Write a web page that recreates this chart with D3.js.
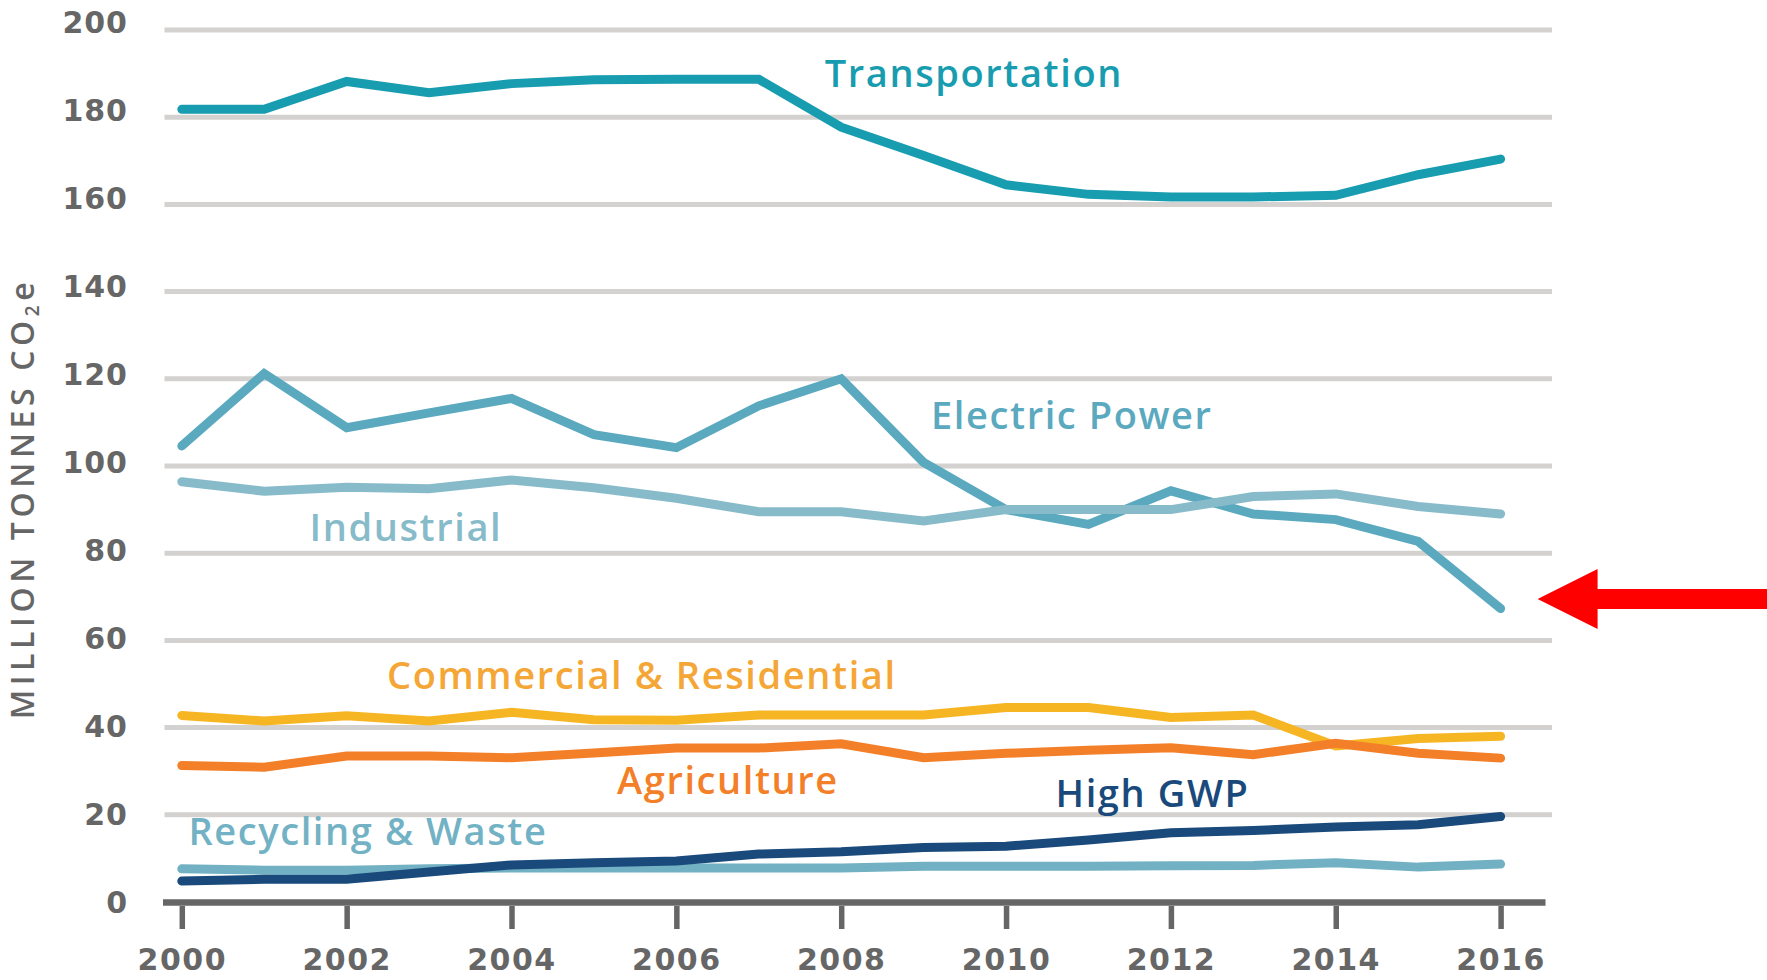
<!DOCTYPE html>
<html>
<head>
<meta charset="utf-8">
<script src="https://cdn.jsdelivr.net/npm/d3@7"></script>
<style>
  body { margin: 0; background: #fff; }
  svg { display: block; }
</style>
</head>
<body>
<div id="chart"></div>
<script>
// data, million tonnes CO2e
var years = [2000,2001,2002,2003,2004,2005,2006,2007,2008,2009,2010,2011,2012,2013,2014,2015,2016];
var transportation = [181.8,181.8,188.2,185.6,187.7,188.6,188.7,188.7,177.7,171.2,164.5,162.3,161.7,161.7,162.1,166.8,170.4];
var electricPower  = [104.6,121.2,108.8,112.2,115.5,107.2,104.2,113.8,120.0,100.8,90.0,86.6,94.3,89.0,87.7,82.7,67.3];
var industrial     = [96.4,94.2,95.1,94.8,96.8,95.0,92.6,89.5,89.5,87.4,90.0,90.0,90.0,93.0,93.6,90.7,89.0];
var commercialRes  = [42.8,41.5,42.7,41.5,43.5,41.8,41.7,42.9,42.9,42.9,44.6,44.6,42.3,42.9,35.8,37.5,38.0];
var agriculture    = [31.3,30.9,33.5,33.5,33.1,34.2,35.3,35.3,36.3,33.1,34.1,34.8,35.4,33.8,36.4,34.1,33.0];
var highGWP        = [4.8,5.2,5.2,6.9,8.5,9.0,9.4,11.0,11.5,12.5,12.8,14.2,15.9,16.4,17.2,17.7,19.6];
var recycling      = [7.6,7.3,7.3,7.6,7.8,7.8,7.8,7.8,7.8,8.2,8.2,8.2,8.3,8.4,9.0,8.0,8.7];

var yTicks = [0,20,40,60,80,100,120,140,160,180,200];
var xTicks = [2000,2002,2004,2006,2008,2010,2012,2014,2016];

var seriesNames = ["Recycling & Waste","High GWP","Commercial & Residential","Agriculture","Electric Power","Industrial","Transportation"];
var seriesValues = [recycling, highGWP, commercialRes, agriculture, electricPower, industrial, transportation];
var lineColors = ["#72b1c3","#1a4a7b","#f6b624","#f47f29","#5ba9bf","#88bbca","#189cb0"];
var labelColors = ["#72b2c4","#1a4a7b","#f4a636","#f47f29","#5ba9bf","#88bbca","#189cb0"];
// label anchor in data units: [year, value] of the text baseline start
var labelAt = [[2000.08,13.1],[2010.6,21.8],[2002.49,48.85],[2005.28,24.8],[2009.09,108.5],[2001.55,82.8],[2007.8,186.9]];

var arrowValue = 69.5; // red pointer at the 2016 electric power value

function display(){
	var width = 1767;
	var height = 980;

	var x = d3.scaleLinear().domain([2000, 2016]).range([181.8, 1500.6]);
	var y = d3.scaleLinear().domain([0, 200]).range([902, 30]);
	// tick labels sit on a slightly tighter scale than the grid in the original
	var yLab = d3.scaleLinear().domain([0, 200]).range([912.5, 32]);

	var svg = d3.select("#chart")
				.append("svg")
				.attr("width", width)
				.attr("height", height);

	// gridlines
	svg.append("g")
		.selectAll("line")
		.data(yTicks.filter(function(d){ return d > 0; }))
		.enter()
		.append("line")
		.attr("x1", 164.5)
		.attr("x2", 1552)
		.attr("y1", function(d){ return y(d); })
		.attr("y2", function(d){ return y(d); })
		.style("stroke", "#d3d2d0")
		.style("stroke-width", 5);

	// y tick labels
	var yAxis = svg.append("g")
		.attr("transform", "translate(128,0)")
		.call(d3.axisLeft(yLab).tickValues(yTicks).tickSize(0).tickPadding(0));
	yAxis.select(".domain").remove();
	yAxis.selectAll("text")
		.attr("dy", null)
		.style("font-family", "'DejaVu Sans', sans-serif")
		.style("font-weight", "bold")
		.style("font-size", "30px")
		.style("letter-spacing", "1px")
		.style("fill", "#666");

	// x axis
	var xAxis = svg.append("g")
		.attr("transform", "translate(0,906)")
		.call(d3.axisBottom(x).tickValues(xTicks).tickFormat(d3.format("d")).tickSize(23).tickSizeOuter(0).tickPadding(0));
	xAxis.select(".domain").remove();
	xAxis.selectAll(".tick line")
		.style("stroke", "#666")
		.style("stroke-width", 5.5);
	xAxis.selectAll(".tick text")
		.attr("y", 64)
		.attr("dy", null)
		.style("font-family", "'DejaVu Sans', sans-serif")
		.style("font-weight", "bold")
		.style("font-size", "30px")
		.style("letter-spacing", "1.5px")
		.style("fill", "#666");
	svg.append("line")
		.attr("x1", 163).attr("x2", 1545.5)
		.attr("y1", y(0) + 0.5).attr("y2", y(0) + 0.5)
		.style("stroke", "#666")
		.style("stroke-width", 6.5);

	// lines
	var line = d3.line()
		.x(function(d, i){ return x(years[i]); })
		.y(function(d){ return y(d); });

	svg.append("g")
		.selectAll("path")
		.data(seriesValues)
		.enter()
		.append("path")
		.attr("d", line)
		.style("fill", "none")
		.style("stroke", function(d, i){ return lineColors[i]; })
		.style("stroke-width", 9)
		.style("stroke-linecap", "round")
		.style("stroke-linejoin", "miter");

	// series labels
	svg.append("g")
		.selectAll("text")
		.data(seriesNames)
		.enter()
		.append("text")
		.attr("x", function(d, i){ return x(labelAt[i][0]); })
		.attr("y", function(d, i){ return y(labelAt[i][1]); })
		.text(function(d){ return d; })
		.style("font-family", "'Open Sans', sans-serif")
		.style("font-weight", "600")
		.style("font-size", "38px")
		.style("letter-spacing", "1.6px")
		.style("fill", function(d, i){ return labelColors[i]; });

	// y axis title
	var title = svg.append("text")
		.attr("transform", "translate(34,498.5) rotate(-90)")
		.attr("text-anchor", "middle")
		.style("font-family", "'Open Sans', sans-serif")
		.style("font-weight", "600")
		.style("font-size", "32px")
		.style("letter-spacing", "4.6px")
		.style("fill", "#666");
	title.append("tspan").text("MILLION TONNES CO");
	title.append("tspan").text("2").style("font-size", "19px").attr("baseline-shift", "-25%");
	title.append("tspan").text("e");

	// red arrow pointing at the last electric power point
	var tipX = x(2016) + 37, tipY = y(arrowValue);
	svg.append("path")
		.attr("d", "M" + tipX + "," + tipY +
			"L" + (tipX + 60) + "," + (tipY - 30) +
			"L" + (tipX + 60) + "," + (tipY - 10) +
			"L" + width + "," + (tipY - 10) +
			"L" + width + "," + (tipY + 10) +
			"L" + (tipX + 60) + "," + (tipY + 10) +
			"L" + (tipX + 60) + "," + (tipY + 30) + "Z")
		.style("fill", "#ff0000");
}

display();
</script>
</body>
</html>
